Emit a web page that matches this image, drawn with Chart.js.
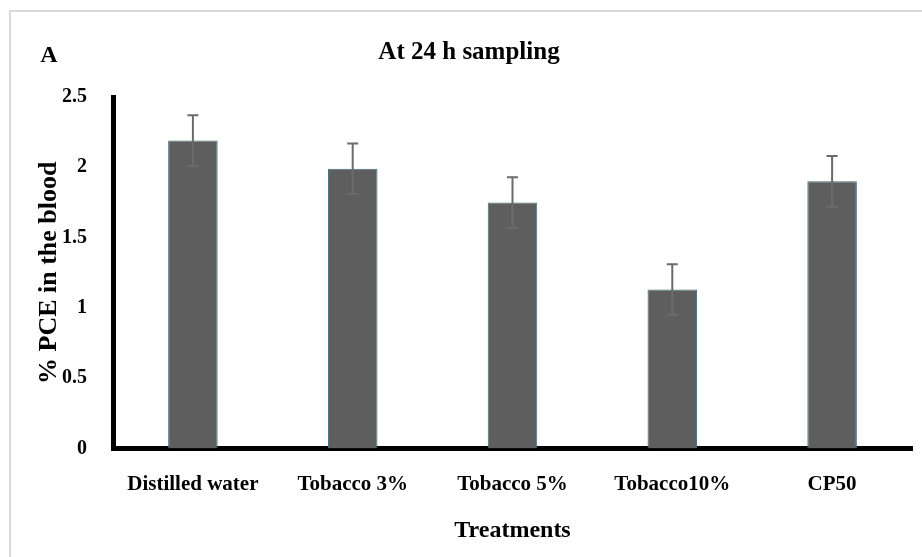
<!DOCTYPE html>
<html>
<head>
<meta charset="utf-8">
<title>At 24 h sampling</title>
<script src="https://cdn.jsdelivr.net/npm/chart.js@4.4.0/dist/chart.umd.min.js"></script>
<style>
  html, body { margin: 0; padding: 0; background: #fff; }
  #wrap { width: 922px; height: 557px; }
</style>
</head>
<body>
<div id="wrap"><canvas id="pceChart"></canvas></div>
<script>
// data
const treatments = ['Distilled water', 'Tobacco 3%', 'Tobacco 5%', 'Tobacco10%', 'CP50'];
const pceValues = [2.19, 1.99, 1.75, 1.13, 1.90];
const pceErrors = [0.18, 0.18, 0.18, 0.18, 0.18];
const yTickValues = [0, 0.5, 1, 1.5, 2, 2.5];
const yTickLabels = ['0', '0.5', '1', '1.5', '2', '2.5'];

const serif = "'Liberation Serif', 'Times New Roman', serif";

// light frame on top/left and the panel letter
const framePlugin = {
  id: 'frame',
  beforeDraw(chart) {
    const ctx = chart.ctx;
    ctx.save();
    ctx.fillStyle = '#fff';
    ctx.fillRect(0, 0, chart.width, chart.height);
    ctx.strokeStyle = '#d9d9d9';
    ctx.lineWidth = 2;
    ctx.beginPath();
    ctx.moveTo(10, chart.height);
    ctx.lineTo(10, 11);
    ctx.lineTo(chart.width, 11);
    ctx.stroke();
    ctx.restore();
  },
  afterDraw(chart) {
    const ctx = chart.ctx;
    ctx.save();
    ctx.fillStyle = '#000';
    ctx.font = 'bold 24px ' + serif;
    ctx.textAlign = 'center';
    ctx.textBaseline = 'middle';
    ctx.fillText('A', 49, 56);
    ctx.restore();
  }
};

// error bars drawn through the y scale
const errorBarPlugin = {
  id: 'errorBars',
  afterDatasetsDraw(chart) {
    const ctx = chart.ctx;
    const yScale = chart.scales.y;
    const meta = chart.getDatasetMeta(0);
    ctx.save();
    ctx.strokeStyle = '#6b6b6b';
    ctx.lineWidth = 2;
    meta.data.forEach(function (bar, i) {
      const x = bar.x;
      const top = yScale.getPixelForValue(pceValues[i] + pceErrors[i]);
      const bottom = yScale.getPixelForValue(pceValues[i] - pceErrors[i]);
      ctx.beginPath();
      ctx.moveTo(x, top);
      ctx.lineTo(x, bottom);
      ctx.moveTo(x - 5.5, top);
      ctx.lineTo(x + 5.5, top);
      ctx.moveTo(x - 5.5, bottom);
      ctx.lineTo(x + 5.5, bottom);
      ctx.stroke();
    });
    ctx.restore();
  }
};

new Chart(document.getElementById('pceChart'), {
  type: 'bar',
  data: {
    labels: treatments,
    datasets: [{
      label: '% PCE',
      data: pceValues,
      backgroundColor: '#5e5e5e',
      borderColor: '#41707f',
      borderWidth: 1,
      barPercentage: 0.31,
      categoryPercentage: 1
    }]
  },
  options: {
    responsive: true,
    maintainAspectRatio: false,
    animation: false,
    layout: { padding: { left: 26, right: 10, top: 0, bottom: 0 } },
    plugins: {
      legend: { display: false },
      tooltip: { enabled: false },
      title: {
        display: true,
        text: 'At 24 h sampling',
        color: '#000',
        font: { family: serif, size: 25, weight: 'bold' },
        padding: { top: 38, bottom: 29 }
      }
    },
    scales: {
      x: {
        grid: { display: false },
        border: { display: true, color: '#000', width: 5 },
        ticks: {
          color: '#000',
          font: { family: serif, size: 21, weight: 'bold' },
          padding: 15,
          maxRotation: 0,
          autoSkip: false
        },
        title: {
          display: true,
          text: 'Treatments',
          color: '#000',
          font: { family: serif, size: 24, weight: 'bold' },
          padding: { top: 0, bottom: 12 }
        },
        afterFit(scale) { scale.height = 108.5; }
      },
      y: {
        min: 0,
        max: 2.5,
        grid: { display: false },
        border: { display: true, color: '#000', width: 5 },
        afterBuildTicks(scale) {
          scale.ticks = yTickValues.map(v => ({ value: v }));
        },
        ticks: {
          color: '#000',
          font: { family: serif, size: 20, weight: 'bold' },
          padding: 18,
          callback: function (value, index) { return yTickLabels[index]; }
        },
        title: {
          display: true,
          text: '% PCE in the blood',
          color: '#000',
          font: { family: serif, size: 26, weight: 'bold' },
          padding: { top: 8, bottom: 0 }
        },
        afterFit(scale) { scale.width = 87; }
      }
    }
  },
  plugins: [framePlugin, errorBarPlugin]
});
</script>
</body>
</html>
